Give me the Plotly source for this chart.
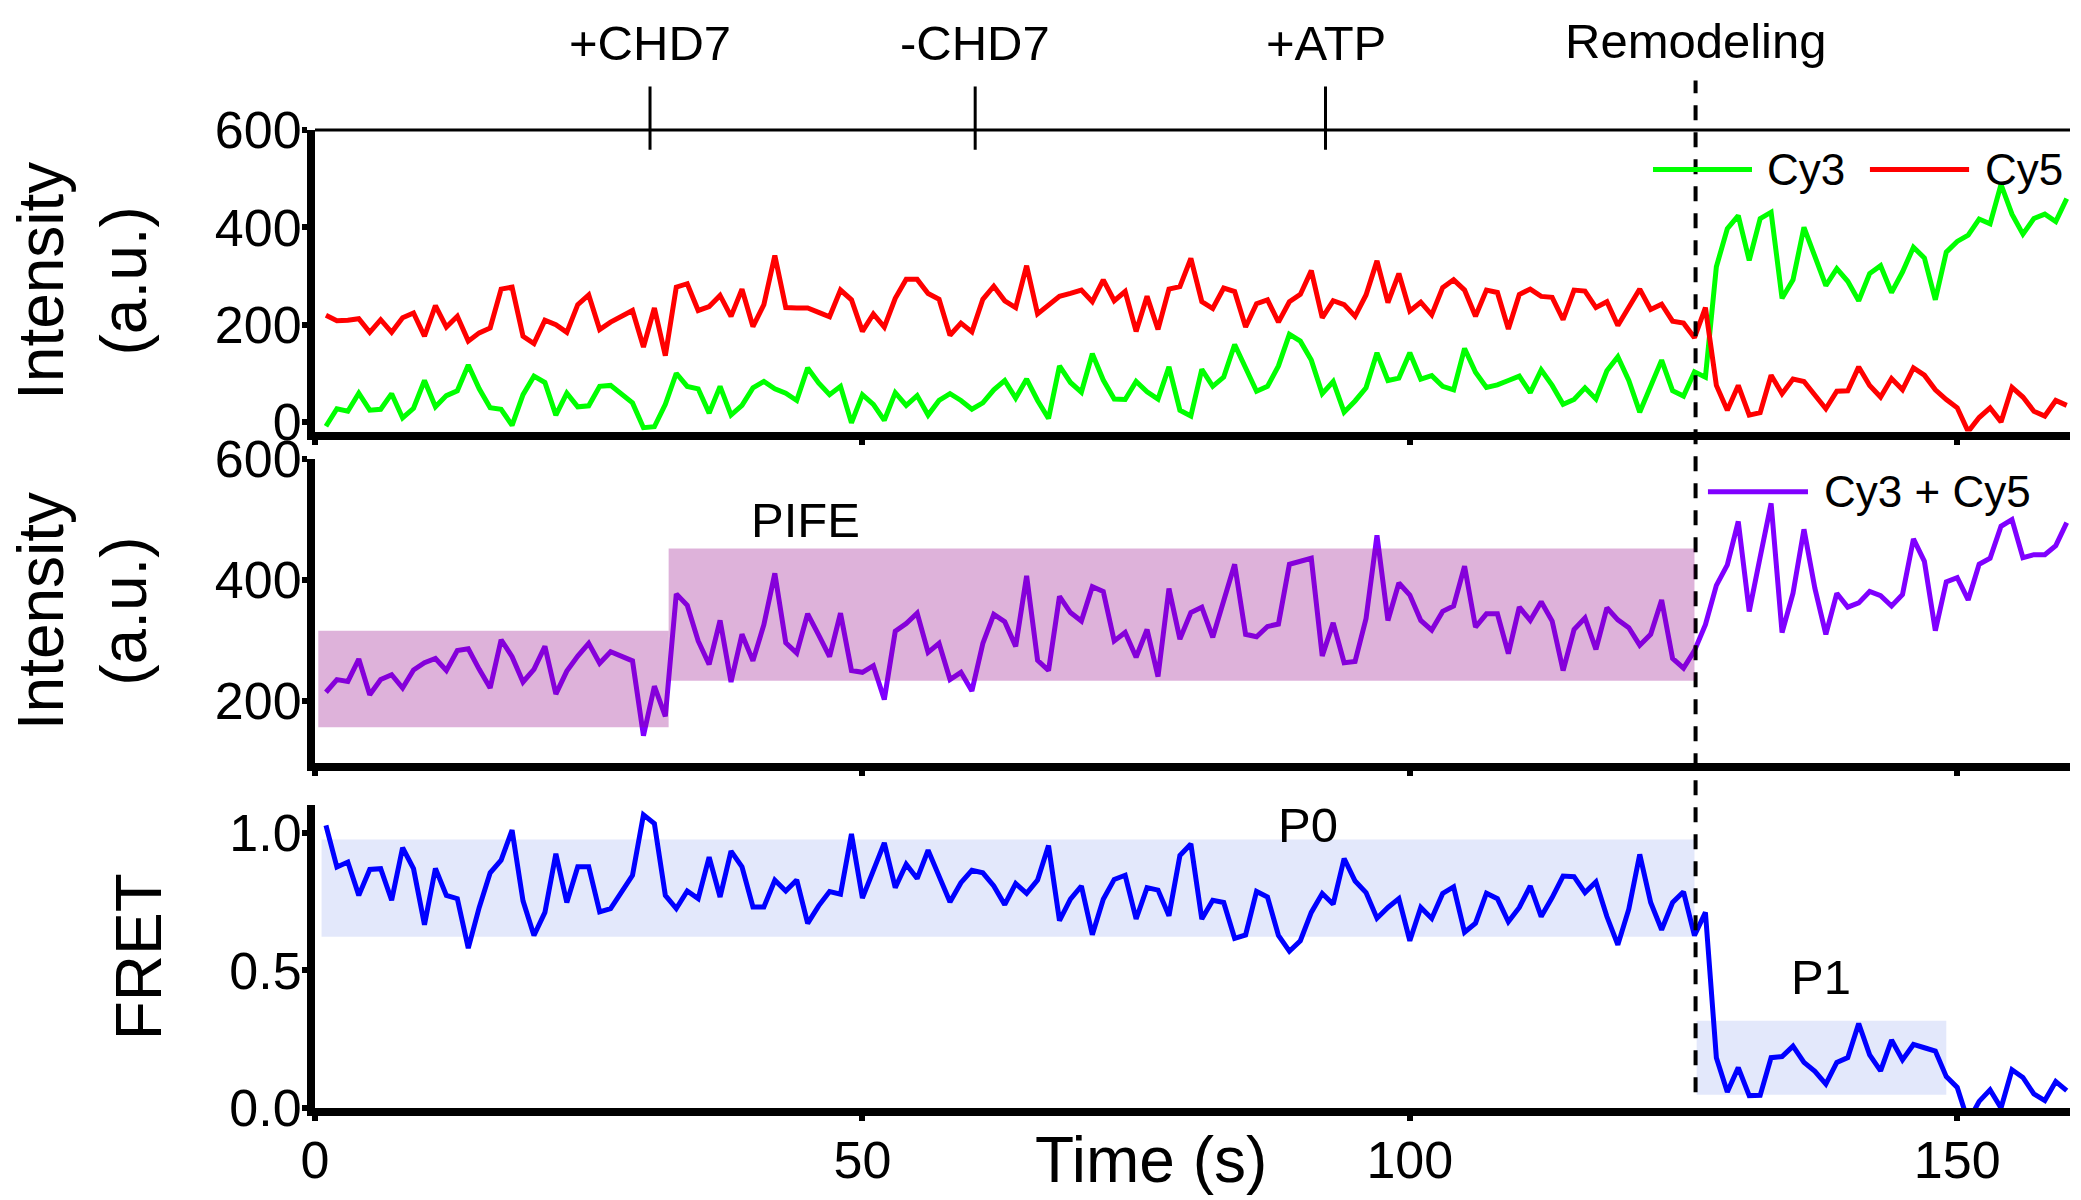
import plotly.graph_objects as go

# ---------------- data ----------------
time_s = list(range(1, 161))

cy3 = [-9, 27, 22, 59, 24, 26, 58, 8, 28, 85, 31, 54, 64, 117, 68, 29, 26, -7, 56, 94,
       81, 14, 59, 31, 33, 73, 75, 58, 39, -12, -10, 36, 100, 73, 68, 18, 73, 14, 34, 70,
       83, 68, 59, 44, 111, 80, 56, 73, -2, 56, 36, 3, 60,
       34, 54, 14, 44, 58, 44, 26, 39, 66, 85, 49, 88, 44, 7, 115, 81, 61, 140, 86, 47,
       46, 83, 62, 47, 113, 24, 12, 108, 73, 92, 159, 112, 63, 73, 115, 180, 166, 127, 58,
       83, 20, 43, 70, 142, 85, 90, 142, 88, 95, 73, 66, 151, 102,
       71, 76, 85, 94, 60, 107, 75, 36, 46, 70, 47, 105, 134, 85, 20, 75, 127, 64, 53, 103,
       92, 319, 397, 424, 332, 418, 431, 254, 292, 400, 339, 280, 315, 289, 249, 305, 321,
       266, 308, 359, 337, 251, 349, 371, 384, 417, 407, 488, 427, 386, 418, 427, 412, 459]

cy5 = [219, 208, 209, 212, 184, 210, 184, 214, 224, 176, 239, 195, 217, 166, 183, 193, 273,
       277, 176, 161, 209, 200, 184, 241, 261, 190, 205, 217, 229, 154, 234, 136, 277, 284,
       229, 237, 260, 217, 273, 196, 241, 342, 235, 234, 234, 225, 216, 271, 251, 186, 222,
       195, 254,
       293, 293, 264, 252, 178, 203, 185, 252, 279, 249, 235, 321, 222, 241, 258, 264, 271,
       247, 292, 249, 268, 186, 258, 190, 273, 278, 336, 247, 233, 275, 268, 195, 243, 251,
       205, 247, 262, 311, 214, 249, 241, 217, 261, 331, 245, 305, 228, 246, 220, 276, 292,
       271, 217,
       271, 266, 191, 262, 273, 258, 256, 210, 271, 269, 235, 247, 198, 237, 273, 231, 242,
       207, 203, 173, 235, 75, 24, 75, 14, 19, 96, 58, 88, 83, 54, 27, 63, 64, 113, 75, 51,
       89, 66, 111, 96, 66, 46, 29, -20, 9, 29, 0, 71, 51, 22, 12, 44, 34]

cy3_plus_cy5 = [214, 235, 232, 269, 210, 235, 243, 221, 251, 263, 270, 250, 283, 286, 252,
                221, 301, 273, 231, 252, 290, 211, 249, 274, 295, 262, 281, 273, 266, 142,
                224, 174, 377, 358, 299, 260, 333, 231, 310, 266, 326, 411, 296, 279, 344,
                309, 273, 345, 250, 247, 258, 202, 315,
                328, 345, 280, 295, 235, 247, 216, 295, 343, 331, 290, 407, 267, 250, 373,
                346, 332, 389, 381, 299, 313, 272, 318, 240, 386, 302, 346, 355, 305, 364,
                426, 310, 306, 323, 327, 426, 430, 436, 274, 329, 263, 265, 336, 474, 333,
                395, 375, 333, 317, 348, 357, 423, 322,
                344, 344, 278, 355, 333, 364, 332, 250, 318, 337, 285, 354, 334, 321, 292,
                310, 367, 270, 254, 283, 326, 391, 425, 497, 348, 438, 527, 313, 378, 484,
                386, 310, 378, 355, 362, 381, 374, 357, 376, 468, 431, 316, 397, 404, 367,
                426, 436, 489, 500, 437, 442, 442, 457, 495]

fret = [1.027, 0.876, 0.894, 0.773, 0.867, 0.870, 0.755, 0.946, 0.870, 0.666, 0.871, 0.773,
        0.761, 0.581, 0.729, 0.855, 0.901, 1.010, 0.753, 0.627, 0.711, 0.924, 0.747, 0.877,
        0.877, 0.713, 0.725, 0.783, 0.846, 1.066, 1.034, 0.773, 0.725, 0.789, 0.761, 0.912,
        0.767, 0.934, 0.877, 0.731, 0.731, 0.828, 0.789, 0.829, 0.671, 0.735, 0.787, 0.777,
        0.996, 0.763, 0.859, 0.964, 0.801,
        0.886, 0.834, 0.937, 0.843, 0.749, 0.819, 0.864, 0.855, 0.807, 0.739, 0.816, 0.780,
        0.829, 0.954, 0.681, 0.759, 0.807, 0.630, 0.759, 0.831, 0.846, 0.687, 0.801, 0.792,
        0.699, 0.918, 0.960, 0.687, 0.755, 0.747, 0.617, 0.629, 0.787, 0.767, 0.627, 0.570,
        0.608, 0.711, 0.780, 0.741, 0.907, 0.825, 0.783, 0.690, 0.729, 0.761, 0.608, 0.729,
        0.689, 0.780, 0.804, 0.639, 0.672,
        0.781, 0.761, 0.677, 0.729, 0.807, 0.696, 0.765, 0.843, 0.841, 0.783, 0.822, 0.696,
        0.593, 0.723, 0.922, 0.747, 0.648, 0.747, 0.786, 0.627, 0.711, 0.183, 0.058, 0.147,
        0.045, 0.046, 0.183, 0.187, 0.225, 0.166, 0.133, 0.087, 0.166, 0.183, 0.307, 0.193,
        0.135, 0.247, 0.175, 0.231, 0.219, 0.207, 0.114, 0.075, -0.05, 0.024, 0.066, 0.0,
        0.139, 0.111, 0.051, 0.027, 0.096, 0.063]

event_times = [30.6, 60.3, 92.3]
event_labels = ["+CHD7", "-CHD7", "+ATP"]
remodeling_time = 126.1
remodeling_label = "Remodeling"

# PIFE intensity states: (start, end, low, high)
pife_start = [0.3, 32.3]
pife_end = [32.3, 126.0]
pife_low = [156, 233]
pife_high = [316, 452]

# FRET states
fret_state_names = ["P0", "P1"]
fret_state_start = [0.6, 126.2]
fret_state_end = [126.0, 149.0]
fret_state_low = [0.623, 0.048]
fret_state_high = [0.976, 0.317]
fret_label_x = [90.7, 137.6]
fret_label_y = [1.03, 0.475]

# ---------------- styling ----------------
FONT = "Liberation Sans, Arial, Helvetica, sans-serif"
GREEN = "#00FF00"
RED = "#FF0000"
PURPLE = "#8000FF"
BLUE = "#0000FF"
TICK_SIZE = 52
TITLE_SIZE = 64
ANN_SIZE = 49
LEG_SIZE = 44
XMAX = 160.3
LW = 5

fig = go.Figure()
fig.add_trace(go.Scatter(x=time_s, y=cy3, mode="lines", name="Cy3",
                         line=dict(color=GREEN, width=LW), xaxis="x", yaxis="y"))
fig.add_trace(go.Scatter(x=time_s, y=cy5, mode="lines", name="Cy5",
                         line=dict(color=RED, width=LW), xaxis="x", yaxis="y"))
fig.add_trace(go.Scatter(x=time_s, y=cy3_plus_cy5, mode="lines", name="Cy3 + Cy5",
                         line=dict(color=PURPLE, width=LW), xaxis="x2", yaxis="y2"))
fig.add_trace(go.Scatter(x=time_s, y=fret, mode="lines", name="FRET",
                         line=dict(color=BLUE, width=LW), xaxis="x3", yaxis="y3"))

xcommon = dict(range=[0, XMAX], showline=True, linecolor="black", linewidth=8,
               ticks="outside", ticklen=5, tickwidth=6, tickcolor="black",
               tickvals=[0, 50, 100, 150], showgrid=False, zeroline=False,
               tickfont=dict(family=FONT, size=TICK_SIZE, color="black"))
ycommon = dict(showline=True, linecolor="black", linewidth=8, ticks="outside",
               ticklen=5, tickwidth=6, tickcolor="black", showgrid=False,
               zeroline=False, ticklabelstandoff=-10,
               tickfont=dict(family=FONT, size=TICK_SIZE, color="black"))

fig.update_layout(
    width=2081, height=1200,
    margin=dict(l=315, r=11, t=130, b=81),
    paper_bgcolor="white", plot_bgcolor="white",
    showlegend=False,
    font=dict(family=FONT, color="black"),
    xaxis=dict(xcommon, anchor="y", domain=[0, 1], showticklabels=False),
    xaxis2=dict(xcommon, anchor="y2", domain=[0, 1], showticklabels=False, matches="x"),
    xaxis3=dict(xcommon, anchor="y3", domain=[0, 1], matches="x", ticklabelstandoff=-5),
    yaxis=dict(ycommon, domain=[0.6916, 1.0], range=[-20, 600], tickvals=[0, 200, 400, 600],
               title=dict(text="Intensity<br>(a.u.)", font=dict(family=FONT, size=TITLE_SIZE),
                          standoff=50)),
    yaxis2=dict(ycommon, domain=[0.3529, 0.6633], range=[97, 600], tickvals=[200, 400, 600],
                title=dict(text="Intensity<br>(a.u.)", font=dict(family=FONT, size=TITLE_SIZE),
                           standoff=50)),
    yaxis3=dict(ycommon, domain=[0, 0.3094], range=[0, 1.1], tickvals=[0, 0.5, 1.0],
                tickformat=".1f",
                title=dict(text="FRET", font=dict(family=FONT, size=TITLE_SIZE), standoff=50)),
)

shapes = []
annotations = []

# top frame line of the upper panel
shapes.append(dict(type="line", xref="paper", yref="paper", x0=0, x1=1, y0=1.0, y1=1.0,
                   line=dict(color="black", width=3)))
# event ticks and labels
for t, lab in zip(event_times, event_labels):
    shapes.append(dict(type="line", xref="x", yref="paper", x0=t, x1=t, y0=0.9798, y1=1.0445,
                       line=dict(color="black", width=3)))
    annotations.append(dict(x=t, xref="x", y=1.089, yref="paper", text=lab, showarrow=False,
                            xanchor="center", yanchor="middle",
                            font=dict(family=FONT, size=ANN_SIZE, color="black")))
# remodeling dashed line
shapes.append(dict(type="line", xref="x", yref="paper", x0=remodeling_time, x1=remodeling_time,
                   y0=0.016, y1=1.0506, line=dict(color="black", width=4, dash="15px,12px")))
annotations.append(dict(x=remodeling_time, xref="x", y=1.091, yref="paper",
                        text=remodeling_label, showarrow=False, xanchor="center",
                        yanchor="middle", font=dict(family=FONT, size=ANN_SIZE, color="black")))

# PIFE shaded states (semi-transparent, drawn over the trace)
for x0, x1, lo, hi in zip(pife_start, pife_end, pife_low, pife_high):
    shapes.append(dict(type="rect", xref="x2", yref="y2", x0=x0, x1=x1, y0=lo, y1=hi,
                       fillcolor="rgba(145,0,131,0.30)", line=dict(width=0), layer="above"))
annotations.append(dict(x=44.8, xref="x2", y=500, yref="y2", text="PIFE", showarrow=False,
                        font=dict(family=FONT, size=ANN_SIZE, color="black")))

# FRET states
for name, x0, x1, lo, hi, lx, ly in zip(fret_state_names, fret_state_start, fret_state_end,
                                        fret_state_low, fret_state_high, fret_label_x,
                                        fret_label_y):
    shapes.append(dict(type="rect", xref="x3", yref="y3", x0=x0, x1=x1, y0=lo, y1=hi,
                       fillcolor="#E3E8FB", line=dict(width=0), layer="below"))
    annotations.append(dict(x=lx, xref="x3", y=ly, yref="y3", text=name, showarrow=False,
                            font=dict(family=FONT, size=ANN_SIZE, color="black")))

# x axis title
annotations.append(dict(x=76.4, xref="x3", y=-0.053, yref="paper", text="Time (s)",
                        showarrow=False, xanchor="center", yanchor="middle",
                        font=dict(family=FONT, size=TITLE_SIZE, color="black")))

# legends
leg_items = [("Cy3", GREEN, 0.7624, 0.8188, 0.8262, 0.9596),
             ("Cy5", RED, 0.8860, 0.9425, 0.9504, 0.9596),
             ("Cy3 + Cy5", PURPLE, 0.7937, 0.8507, 0.8587, 0.630)]
for txt, col, lx0, lx1, tx, ly in leg_items:
    shapes.append(dict(type="line", xref="paper", yref="paper", x0=lx0, x1=lx1, y0=ly, y1=ly,
                       line=dict(color=col, width=5)))
    annotations.append(dict(x=tx, xref="paper", y=ly, yref="paper", text=txt, showarrow=False,
                            xanchor="left", yanchor="middle",
                            font=dict(family=FONT, size=LEG_SIZE, color="black")))

fig.update_layout(shapes=shapes, annotations=annotations)
fig.write_html("out.html")
